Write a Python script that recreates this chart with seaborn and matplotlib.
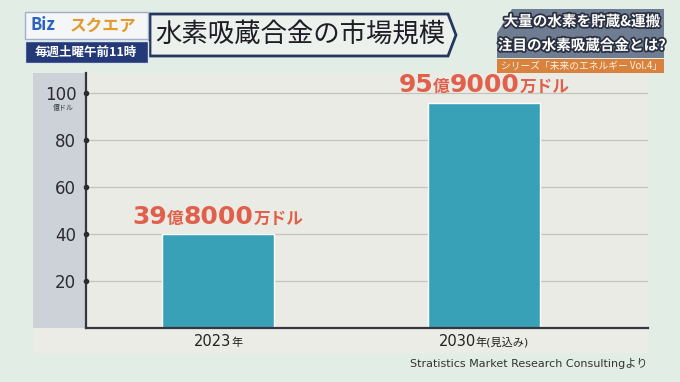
import matplotlib
matplotlib.use("Agg")
import matplotlib.pyplot as plt
import matplotlib.patches as mpatches
import matplotlib.patheffects as pe
from matplotlib.offsetbox import TextArea, HPacker, AnnotationBbox
import seaborn as sns
import pandas as pd

# === data ===
years = ["2023年", "2030年(見込み)"]
market_size = [39.8, 95.9]          # 億ドル
value_labels = [("39", "億", "8000", "万ドル"), ("95", "億", "9000", "万ドル")]
year_parts = [("2023", "年"), ("2030", "年(見込み)")]
yticks = [20, 40, 60, 80, 100]

df = pd.DataFrame({"year": years, "size": market_size})

# === style ===
sns.set_theme(style="white")
# wide latin digits from DejaVu, Japanese falls back to Noto CJK
plt.rcParams["font.family"] = ["DejaVu Sans", "Noto Sans CJK JP"]
JP = ["Noto Sans CJK JP", "DejaVu Sans"]

W, H = 680, 382
fig = plt.figure(figsize=(6.8, 3.82), dpi=100)
fig.patch.set_facecolor("#e2eee5")


def fx(x):
    return x / W


def fy(y):
    return 1 - y / H


def poly(points, z=2, **kw):
    p = mpatches.Polygon([(fx(x), fy(y)) for x, y in points], closed=True,
                         transform=fig.transFigure, zorder=z, **kw)
    fig.patches.append(p)


# chart panel pieces (gray y-axis band and label strip) - behind the axes
poly([(33, 73), (86, 73), (86, 328), (33, 328)], z=-2, facecolor="#cdd1d8", edgecolor="none")
poly([(33, 328), (648, 328), (648, 353), (33, 353)], z=-2, facecolor="#ececE6".lower(), edgecolor="none")

ax = fig.add_axes([fx(86), fy(328), fx(648) - fx(86), (328 - 73) / H])
ax.set_facecolor("#ebebe5")

sns.barplot(data=df, x="year", y="size", color="#38a1b7", width=0.42,
            saturation=1, ax=ax)

ax.set_xlim(-0.496, 1.617)
ax.set_ylim(0, 108.5)
ax.set_yticks(yticks)
ax.yaxis.grid(True, color="#c4c4bf", linewidth=0.9)
ax.set_axisbelow(True)
ax.set_xlabel("")
ax.set_ylabel("")
ax.set_xticks([])
for s in ["top", "right"]:
    ax.spines[s].set_visible(False)
ax.spines["left"].set_color("#35363f")
ax.spines["left"].set_linewidth(1.6)
ax.spines["bottom"].set_color("#35363f")
ax.spines["bottom"].set_linewidth(1.6)
ax.tick_params(axis="y", length=0, pad=7, labelsize=12, labelcolor="#2b2b30")
# dot markers on the axis at each tick
ax.scatter([ax.get_xlim()[0]] * len(yticks), yticks, s=9, color="#2b2b30",
           clip_on=False, zorder=5)
fig.text(fx(63), fy(108), "億ドル", fontsize=5, color="#333333", ha="center", va="center",
         family=JP)


def mixed(parts, sizes, color, weight):
    kids = [TextArea(t, textprops=dict(fontsize=s, color=color, fontweight=weight))
            for t, s in zip(parts, sizes)]
    return HPacker(children=kids, align="baseline", pad=0, sep=0)


# value labels above bars
for i, (v, parts) in enumerate(zip(market_size, value_labels)):
    box = mixed(parts, [18, 12, 18, 12], "#e0604b", "bold")
    ab = AnnotationBbox(box, (i, v), xybox=(0, 4), boxcoords="offset points",
                        box_alignment=(0.5, 0), frameon=False, pad=0)
    ax.add_artist(ab)

# year labels under the axis
for i, parts in enumerate(year_parts):
    box = mixed(parts, [10.5, 8], "#222222", "normal")
    ab = AnnotationBbox(box, (i, 0), xybox=(0, -4), boxcoords="offset points",
                        box_alignment=(0.5, 1), frameon=False, pad=0,
                        annotation_clip=False)
    ax.add_artist(ab)

fig.text(fx(648), fy(363), "Stratistics Market Research Consultingより", fontsize=8,
         color="#333333", ha="right", va="center")

# === header ===
poly([(150, 14), (448, 14), (456, 35), (448, 56), (150, 56)], facecolor="#edf1ee",
     edgecolor="#25365f", linewidth=2)
fig.text(fx(300), fy(35), "水素吸蔵合金の市場規模", fontsize=19, color="#1e1e24",
         ha="center", va="center", family=JP)

poly([(25, 12), (148, 12), (148, 39), (25, 39)], facecolor="#f4f6f7", edgecolor="#9fb0c8", linewidth=1)
fig.text(fx(30), fy(25.5), "Biz", fontsize=12, color="#2a62c0", fontweight="bold",
         ha="left", va="center", family=JP)
fig.text(fx(70), fy(25.5), "スクエア", fontsize=12, color="#e39b2c", fontweight="bold",
         ha="left", va="center", family=JP)
poly([(25, 41), (148, 41), (148, 63), (25, 63)], facecolor="#243a78", edgecolor="#dfe5ef", linewidth=1)
fig.text(fx(86), fy(52), "毎週土曜午前11時", fontsize=9, color="white", fontweight="bold",
         ha="center", va="center", family=JP)

poly([(512, 9), (664, 9), (664, 58), (497, 58), (497, 33)], facecolor="#6f7d92", edgecolor="none")
outline = [pe.withStroke(linewidth=2.5, foreground="#2a3040")]
fig.text(fx(582), fy(21), "大量の水素を貯蔵&運搬", fontsize=10.5, color="white",
         fontweight="bold", ha="center", va="center", path_effects=outline, family=JP)
fig.text(fx(582), fy(45), "注目の水素吸蔵合金とは?", fontsize=10.5, color="white",
         fontweight="bold", ha="center", va="center", path_effects=outline, family=JP)
poly([(497, 59), (664, 59), (664, 73), (497, 73)], facecolor="#d9823e", edgecolor="none")
fig.text(fx(501), fy(66), "シリーズ「未来のエネルギー Vol.4」", fontsize=7,
         color="#fff4e0", ha="left", va="center", family=JP)

fig.savefig("out.png", dpi=100, facecolor=fig.get_facecolor())
